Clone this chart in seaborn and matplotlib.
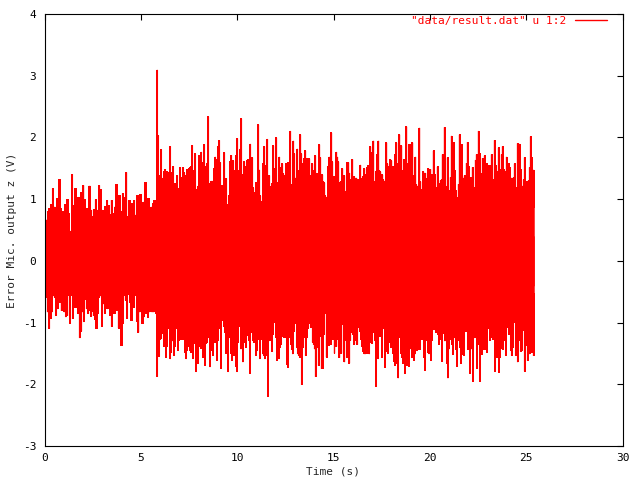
import numpy as np
import pandas as pd
import matplotlib
matplotlib.use("Agg")
import matplotlib.pyplot as plt
import seaborn as sns

# ---------------- data (envelope of the dense signal) ----------------
# phase 1: t = 0 .. 5.78 s, phase 2: t = 5.83 .. 25.41 s
T1_START, T1_END = 0.0, 5.78
T2_START, T2_END = 5.83, 25.41

upper_phase1 = [0.96, 0.67, 0.81, 0.85, 0.92, 1.18, 0.88, 0.73, 1.02, 1.33, 0.85, 0.80, 0.65, 0.92,
                1.00, 0.77, 0.49, 1.41, 0.91, 1.18, 0.80, 1.04, 0.61, 1.11, 1.23, 1.00, 0.85, 0.75,
                1.22, 0.83, 0.72, 0.84, 1.00, 0.83, 1.23, 1.16, 0.83, 0.60, 0.89, 0.99, 0.90, 0.76,
                0.99, 0.78, 0.88, 1.25, 0.75, 1.07, 0.80, 1.10, 1.03, 1.44, 0.72, 0.99, 0.73, 0.94,
                0.99, 0.75, 1.06, 0.72, 1.08, 0.62, 0.96, 1.27, 0.91, 1.02, 0.74, 0.88, 0.94, 0.99,
                0.89]

lower_phase1 = [-0.90, -0.58, -0.82, -1.09, -0.93, -0.82, -0.55, -0.58, -0.88, -0.77, -0.53, -0.66,
                -0.80, -0.63, -0.82, -0.90, -0.88, -0.55, -1.00, -0.55, -0.93, -0.58, -0.74, -0.66,
                -0.85, -1.24, -1.13, -0.82, -0.98, -0.62, -0.77, -0.85, -0.80, -0.89, -0.81, -0.88,
                -0.94, -1.08, -0.85, -0.58, -0.55, -1.05, -0.69, -0.84, -0.62, -0.77, -0.72, -0.88,
                -1.06, -0.63, -0.84, -0.66, -0.80, -1.08, -0.68, -1.36, -1.01, -0.55, -0.63, -0.93,
                -0.53, -0.66, -0.96, -0.51, -0.74, -0.55, -0.97, -1.15, -0.82, -0.53, -1.00, -0.90,
                -0.74, -0.84, -0.91, -0.82, -0.70, -0.82, -0.82, -0.69, -0.85]

upper_phase2 = [
    3.10, 2.04, 1.39, 1.39, 1.81, 1.23, 1.35, 1.46, 1.49, 1.42, 1.46, 1.33, 1.44, 1.86, 1.44, 0.96,
    1.54, 1.22, 1.26, 1.18, 1.39, 1.18, 1.11, 1.52, 1.18, 1.36, 1.52, 1.44, 1.39, 1.23, 1.49, 1.26,
    1.51, 1.52, 1.54, 1.88, 1.39, 1.47, 1.74, 1.01, 1.17, 1.22, 1.72, 1.28, 1.77, 1.25, 1.60, 1.89,
    1.46, 1.54, 1.59, 2.34, 1.26, 1.20, 1.30, 1.30, 1.04, 1.51, 1.69, 1.65, 1.33, 1.86, 1.96, 1.60,
    1.23, 1.03, 1.23, 1.76, 0.98, 1.34, 0.92, 0.84, 1.07, 1.62, 1.72, 1.58, 1.63, 1.12, 1.47, 1.72,
    1.99, 1.28, 1.47, 1.82,
    2.31, 1.21, 1.40, 1.61, 1.53, 1.11, 1.63, 1.65, 1.32, 1.90, 1.47, 1.68, 1.19, 1.11, 1.05, 1.27,
    1.26, 2.21, 1.48, 1.06, 0.97, 0.85, 1.58, 1.86, 0.84, 1.55, 1.98, 1.27, 1.39, 1.14, 1.22, 1.26,
    1.87, 1.50, 1.45, 2.00, 1.27, 1.06, 1.69, 1.35, 1.52, 1.58, 1.42, 1.39, 1.22, 1.58, 1.39, 1.60,
    1.39, 2.11, 0.85, 1.24, 1.95, 1.74, 1.35, 0.98, 1.82, 1.47, 1.22, 2.05, 1.74, 1.58, 1.40, 1.66,
    1.79, 1.27, 1.66, 1.11, 1.66, 1.19, 1.39, 1.58, 1.47, 1.24, 1.71, 1.26, 1.42, 1.27, 1.89, 1.68,
    1.13, 1.40, 1.29, 1.27, 1.06, 1.03, 1.03, 1.53, 1.69, 1.27, 2.08, 1.61, 1.32, 1.37, 1.26, 1.77,
    1.69, 1.61, 0.90, 1.27, 1.29, 1.50, 1.21, 1.39, 1.13, 1.11, 1.60, 1.60, 1.43, 1.19, 1.32, 1.65,
    1.27, 1.37, 1.32, 1.35, 1.08, 1.32, 1.27, 1.56, 1.21, 1.35, 1.37, 1.50, 1.32, 1.40, 1.52, 1.55,
    1.11, 1.86, 1.39, 1.77, 1.95, 1.24, 1.29, 1.45, 1.73, 1.95, 1.47, 1.45, 1.16, 1.40, 1.32, 1.16,
    1.29, 1.92, 1.58, 1.47, 1.53, 1.65, 1.63, 1.24, 1.53, 1.47, 1.73, 1.92, 1.58, 1.24, 2.05, 1.42,
    1.87, 1.47, 1.40, 1.65, 1.45, 2.18, 1.58, 1.22, 1.89, 1.18, 1.90, 1.92, 1.37, 1.39, 1.69, 1.24,
    1.14, 1.22, 2.16, 1.29, 1.16, 1.00, 1.45, 1.29, 1.43, 1.21, 1.35, 1.50,
    1.49, 1.49, 1.41, 1.20, 1.79, 1.40, 1.20, 1.01, 1.53, 1.26, 1.06, 1.31, 1.32, 1.73, 1.21, 2.17,
    1.22, 1.21, 1.68, 1.13, 1.15, 1.36, 2.03, 1.47, 1.93, 1.47, 1.15, 1.04, 0.95, 1.25, 2.05, 1.33,
    1.89, 0.93, 1.35, 1.39, 1.19, 1.59, 1.93, 1.53, 0.98, 1.36, 1.31, 1.52, 1.04, 1.20, 1.64, 1.73,
    1.60, 2.11, 1.75, 1.41, 1.42, 1.67, 1.60, 1.71, 1.05, 1.59, 1.55, 1.33, 1.55, 1.46, 1.73, 1.32,
    1.10, 1.96, 1.56, 1.13, 1.46, 1.84, 1.24, 1.49, 1.73, 1.86, 1.49, 1.46, 1.05, 1.69, 1.47, 1.59,
    1.52, 1.29, 1.35, 0.98, 1.36, 1.58, 0.88, 1.19, 1.91, 1.56, 1.90, 1.49, 0.88, 1.22, 1.32, 1.68,
    1.21, 1.29, 1.21, 1.31, 1.52, 2.02, 1.68, 1.31, 1.48, 0.88]

lower_phase2 = [
    -1.87, -1.36, -1.54, -1.27, -1.25, -1.17, -1.09, -1.38, -0.91, -1.55, -1.38, -1.09, -0.95, -1.58,
    -1.47, -1.29, -0.96, -1.52, -1.38, -1.08, -1.05, -1.44, -1.28, -1.08, -1.27, -0.88, -1.27, -1.04,
    -1.48, -1.58, -1.44, -1.31, -1.38, -1.44, -1.47, -1.38, -1.58, -0.85, -1.33, -1.79, -1.13, -1.66,
    -1.38, -1.13, -1.41, -1.17, -1.55, -1.55, -1.68, -1.33, -1.31, -1.18, -1.23, -1.71, -1.44, -1.32,
    -1.52, -0.97, -1.31, -1.15, -1.60, -1.28, -1.08, -0.98, -1.74, -0.96, -0.88, -1.05, -1.15, -1.49,
    -1.44, -1.79, -1.24, -1.13, -1.49, -1.60, -1.49, -1.52, -1.12, -1.70, -1.79, -1.31, -1.06, -1.01,
    -1.42, -1.01, -1.63, -1.02, -1.31, -1.39, -1.20, -1.12, -1.28, -1.82, -1.00, -1.15, -1.28, -1.31,
    -1.20, -1.53, -1.45, -1.07, -1.26, -1.58, -1.06, -1.26, -1.50, -1.53, -1.58, -1.53, -1.36, -2.19,
    -1.29, -1.28, -1.27, -1.46, -1.18, -0.99, -0.92, -1.23, -1.61, -1.11, -1.58, -1.39, -1.35, -1.22,
    -0.99, -1.23, -0.88, -1.23, -1.67, -1.72, -1.18, -1.23, -1.35, -1.43, -1.50, -1.13, -1.01, -0.99,
    -1.39, -1.50, -1.53, -1.56, -1.56, -2.00, -1.40, -1.23, -1.20, -1.53, -1.24, -1.09, -1.00, -0.84,
    -1.07, -0.84, -1.31, -1.35, -1.42, -1.87, -1.38, -1.40, -1.69, -1.17, -1.22, -1.74, -1.74, -1.19,
    -0.85, -0.81, -1.55, -1.18, -1.36, -1.24, -1.34, -1.15, -1.27, -1.18, -1.49, -1.23, -1.38, -1.11,
    -1.26, -1.56, -1.02, -1.49, -0.90, -1.02, -1.63, -1.28, -1.01, -1.56, -1.38, -1.65, -1.28, -1.11,
    -1.15, -1.19, -1.34, -1.28, -0.99, -1.35, -0.79, -1.07, -1.13, -1.27, -1.38, -1.46, -1.50, -1.50,
    -1.29, -1.49, -1.43, -1.50, -1.31, -1.23, -1.33, -1.01, -1.15, -1.28, -2.03, -1.40, -1.58, -1.00,
    -1.22, -1.20, -1.55, -1.09, -0.83, -1.72, -0.99, -1.46, -1.49, -1.31, -1.12, -1.39, -1.11, -1.49,
    -1.62, -1.69, -1.65, -1.55, -1.89, -1.23, -1.23, -1.49, -1.55, -1.65, -1.36, -1.81, -1.66, -1.69,
    -1.47, -1.70, -1.20, -1.42, -1.56, -1.36, -1.61, -1.50, -1.26, -1.45, -1.27, -1.43, -1.43, -1.24,
    -1.27, -1.12, -1.56, -1.77, -1.28, -1.24, -1.47, -1.50,
    -1.28, -1.61, -1.28, -0.96, -1.11, -1.07, -1.15, -1.12, -1.18, -1.34, -1.12, -1.27, -1.62, -1.17,
    -1.02, -1.29, -1.24, -1.65, -1.89, -1.42, -1.27, -1.17, -1.35, -1.51, -1.15, -1.24, -1.43, -1.70,
    -0.91, -1.28, -1.39, -1.66, -1.51, -1.07, -1.53, -1.11, -1.13, -0.96, -1.43, -0.99, -1.82, -1.15,
    -1.42, -1.94, -1.07, -1.24, -1.18, -1.73, -1.18, -1.34, -1.94, -0.91, -1.51, -1.18, -1.43, -1.15,
    -1.43, -1.47, -0.80, -1.09, -1.28, -1.23, -1.19, -1.27, -1.18, -1.78, -1.47, -1.55, -1.11, -1.80,
    -1.55, -1.42, -1.35, -1.43, -1.28, -1.18, -1.53, -0.91, -1.07, -1.18, -1.11, -1.45, -1.53, -1.39,
    -0.95, -0.99, -1.53, -1.18, -1.63, -1.12, -1.28, -1.46, -1.45, -0.83, -1.12, -1.78, -1.36, -1.34,
    -1.61, -1.18, -1.50, -1.42, -1.47, -1.02, -1.53, -0.52]

X_TICKS = [0, 5, 10, 15, 20, 25, 30]
Y_TICKS = [-3, -2, -1, 0, 1, 2, 3, 4]
X_LABEL = "Time (s)"
Y_LABEL = "Error Mic. output z (V)"
SERIES_LABEL = '"data/result.dat" u 1:2'

# ---------------- style ----------------
sns.set_style("white")
RED = "#ff0000"
FONT = ["DejaVu Sans Mono", "DejaVu Sans"]
plt.rcParams.update({
    "font.family": FONT,
    "font.size": 8,
    "axes.unicode_minus": False,
    "axes.edgecolor": "black",
    "axes.linewidth": 0.8,
    "xtick.direction": "in",
    "ytick.direction": "in",
    "xtick.top": True,
    "ytick.right": True,
    "xtick.major.size": 4,
    "ytick.major.size": 4,
    "xtick.major.width": 0.8,
    "ytick.major.width": 0.8,
    "xtick.color": "black",
    "ytick.color": "black",
})

fig = plt.figure(figsize=(6.4, 4.8), dpi=100)
ax = fig.add_axes([44.5 / 640, 34 / 480, 578 / 640, 432 / 480])

t_up = np.concatenate([np.linspace(T1_START, T1_END, len(upper_phase1)),
                       np.linspace(T2_START, T2_END, len(upper_phase2))])
v_up = np.array(upper_phase1 + upper_phase2)
t_lo = np.concatenate([np.linspace(T1_START, T1_END, len(lower_phase1)),
                       np.linspace(T2_START, T2_END, len(lower_phase2))])
v_lo = np.array(lower_phase1 + lower_phase2)

df_up = pd.DataFrame({"t": t_up, "v": v_up})
df_lo = pd.DataFrame({"t": t_lo, "v": v_lo})

ax.fill_between(df_up["t"], -0.4, df_up["v"], step="mid", facecolor=RED, edgecolor=RED,
                lw=0.3, antialiased=False)
ax.fill_between(df_lo["t"], df_lo["v"], 0.4, step="mid", facecolor=RED, edgecolor=RED,
                lw=0.3, antialiased=False)
sns.lineplot(data=df_up, x="t", y="v", ax=ax, color=RED, lw=0.7, drawstyle="steps-mid",
             estimator=None, sort=False, label=SERIES_LABEL, antialiased=False)
sns.lineplot(data=df_lo, x="t", y="v", ax=ax, color=RED, lw=0.7, drawstyle="steps-mid",
             estimator=None, sort=False, legend=False, antialiased=False)

ax.set_xlim(0, 30)
ax.set_ylim(-3, 4)
ax.set_xticks(X_TICKS)
ax.set_yticks(Y_TICKS)
ax.set_xticklabels([str(v) for v in X_TICKS])
ax.set_yticklabels([str(v) for v in Y_TICKS])
ax.tick_params(axis="x", pad=5)
ax.tick_params(axis="y", pad=6)
ax.set_xlabel("")
ax.set_ylabel("")
for s in ax.spines.values():
    s.set_visible(True)
    s.set_color("black")

fig.text(333 / 640, 1 - 471 / 480, X_LABEL, ha="center", va="center", fontsize=8, family=FONT)
fig.text(12 / 640, 1 - 230 / 480, Y_LABEL, ha="center", va="center", rotation=90, fontsize=8,
         family=FONT)

leg = ax.legend(loc="upper right", bbox_to_anchor=((607 - 44.5) / 578, (446 - 16) / 432),
                frameon=False, markerfirst=False, labelcolor=RED, handlelength=2.9,
                handletextpad=0.8, borderaxespad=0, borderpad=0, prop={"family": FONT, "size": 8})
for h in leg.get_lines():
    h.set_linewidth(1.0)

fig.savefig("out.png", dpi=100)
